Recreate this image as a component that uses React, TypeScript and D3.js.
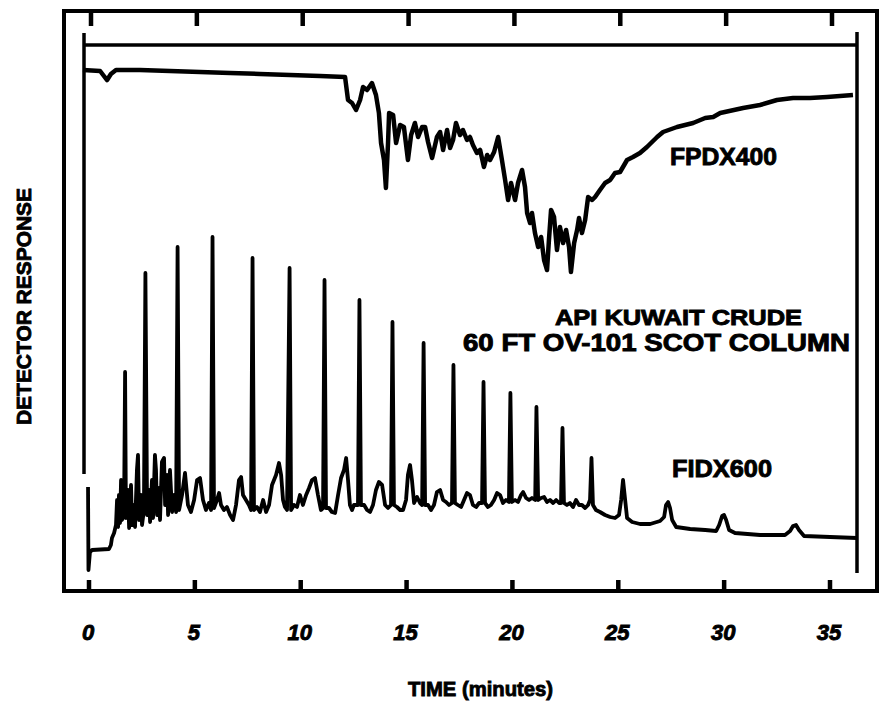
import React, { useEffect, useRef } from 'react';
import * as d3 from 'd3';

// time axis (minutes)
const tickValues = [0, 5, 10, 15, 20, 25, 30, 35];
const tickLabels = ['0', '5', '10', '15', '20', '25', '30', '35'];

// FPD x400 trace : [time (min), response]
const fpdTrace: [number, number][] = [
  [-0.38, 104], [0.43, 103.8], [0.61, 102.8], [0.76, 102], [0.94, 103.2], [1.18, 104],
  [2.31, 104], [3.73, 103.8], [5.15, 103.6], [6.57, 103.4], [7.98, 103.2], [9.4, 103],
  [10.82, 102.8], [12.0, 102.6], [12.14, 98], [12.33, 97.4], [12.52, 96], [12.71, 98],
  [12.85, 100.6], [13.04, 100], [13.27, 101.4], [13.46, 99], [13.6, 95.4], [13.7, 89.4],
  [13.84, 86], [13.93, 80.4], [14.03, 89.4], [14.08, 95.4], [14.27, 95], [14.41, 89.4],
  [14.6, 93], [14.78, 92.6], [14.97, 86], [15.12, 91], [15.3, 93.4], [15.45, 90.6],
  [15.64, 92.6], [15.78, 92.6], [15.92, 89.6], [16.11, 86.4], [16.34, 90.6], [16.49, 91.6],
  [16.63, 88], [16.82, 92], [16.96, 88.4], [17.1, 90], [17.24, 93.4], [17.43, 91],
  [17.57, 92], [17.76, 90], [17.9, 90.6], [18.04, 89], [18.23, 87.4], [18.38, 88],
  [18.56, 84.6], [18.71, 87], [18.85, 86], [19.04, 87.6], [19.23, 90.6], [19.41, 86],
  [19.56, 82], [19.7, 78], [19.84, 81.4], [20.03, 78], [20.17, 81.4], [20.36, 84],
  [20.5, 80.6], [20.6, 75.4], [20.74, 73.4], [20.83, 75.4], [20.97, 71.4], [21.12, 68.6],
  [21.26, 70.6], [21.4, 66], [21.54, 64], [21.63, 70], [21.73, 76], [21.87, 74.6],
  [22.01, 68], [22.15, 72.6], [22.3, 69.4], [22.44, 72], [22.58, 68.6], [22.67, 63.6],
  [22.82, 69.4], [22.96, 72], [23.05, 74.4], [23.19, 71.4], [23.34, 74], [23.48, 78.6],
  [23.67, 78], [23.81, 78.6], [24.04, 80], [24.28, 81.4], [24.52, 82], [24.75, 83.4],
  [24.99, 83.6], [25.32, 86], [25.6, 86.6], [25.93, 87.4], [26.26, 88.6], [26.74, 90.6],
  [27.02, 91.6], [27.68, 92.6], [28.44, 93.4], [29.01, 94.4], [29.39, 94.6], [29.72, 95.4],
  [30.8, 96.4], [31.6, 97], [32.4, 98], [33.16, 98.4], [33.96, 98.4], [34.77, 98.6],
  [35.99, 99]
];

// FID x600 trace : [time (min), response]
const fidTrace: [number, number][] = [
  [-0.14, 20.6], [-0.12, 4], [-0.05, 7.6], [0.05, 8], [0.85, 8.2], [0.94, 9], [0.99, 10.4],
  [1.09, 11.4], [1.18, 13], [1.23, 18], [1.28, 12.6], [1.32, 19], [1.37, 13.4], [1.42, 22],
  [1.46, 14], [1.56, 15], [1.61, 43.6], [1.65, 14.4], [1.75, 20], [1.8, 12.4], [1.89, 21],
  [1.94, 13], [2.03, 17], [2.08, 12.6], [2.17, 24], [2.22, 27], [2.27, 14], [2.36, 19],
  [2.41, 13], [2.5, 16], [2.57, 63.4], [2.65, 15], [2.74, 20], [2.79, 13.6], [2.88, 22],
  [2.93, 14.4], [3.02, 27], [3.07, 24], [3.12, 15], [3.21, 20.4], [3.26, 14], [3.35, 25.6],
  [3.45, 26.4], [3.5, 17], [3.59, 23], [3.64, 15], [3.73, 24], [3.83, 15.6], [3.92, 19],
  [4.02, 15.6], [4.09, 68.6], [4.16, 16], [4.3, 19], [4.44, 23.4], [4.58, 17], [4.72, 15.6],
  [4.87, 18], [5.01, 22], [5.15, 22.4], [5.29, 18], [5.43, 16], [5.57, 17.4], [5.67, 16],
  [5.74, 70.6], [5.81, 16.4], [5.95, 18], [6.05, 19.4], [6.14, 17], [6.28, 16], [6.42, 16.6],
  [6.57, 15], [6.71, 14], [6.85, 17], [6.99, 22], [7.09, 22.6], [7.18, 19], [7.32, 18],
  [7.46, 17], [7.56, 16], [7.63, 66.4], [7.7, 16], [7.84, 16.6], [7.98, 15.6], [8.13, 18],
  [8.27, 15.6], [8.41, 17], [8.55, 21], [8.74, 23], [8.88, 25.4], [8.98, 23], [9.07, 18],
  [9.16, 16.6], [9.26, 16], [9.38, 64.4], [9.45, 16], [9.59, 17], [9.73, 16.6], [9.87, 19],
  [10.01, 17], [10.16, 19], [10.3, 20.4], [10.44, 22], [10.58, 22.4], [10.72, 19], [10.86, 16],
  [10.96, 16.4], [11.03, 62], [11.1, 16.4], [11.24, 16.4], [11.38, 15.6], [11.53, 15.4],
  [11.67, 19], [11.81, 22.4], [11.95, 24], [12.05, 26.4], [12.14, 22], [12.23, 17], [12.33, 16],
  [12.42, 17], [12.61, 17], [12.68, 58], [12.75, 17], [12.9, 17], [13.04, 16], [13.18, 15.6],
  [13.32, 17], [13.46, 20], [13.6, 21.6], [13.75, 21], [13.89, 17], [14.03, 16.4], [14.17, 17],
  [14.24, 53.6], [14.31, 17], [14.45, 16.6], [14.6, 16], [14.74, 16], [14.88, 18], [14.97, 23],
  [15.07, 25], [15.16, 22], [15.26, 17.4], [15.4, 18.6], [15.54, 17.4], [15.64, 17], [15.71, 49.4],
  [15.78, 17], [15.92, 17], [16.06, 16], [16.2, 17], [16.34, 19.6], [16.49, 20], [16.63, 18],
  [16.77, 17.6], [16.91, 17], [17.05, 17.4], [17.12, 45], [17.19, 17.4], [17.33, 17], [17.48, 16.6],
  [17.62, 18], [17.76, 19.4], [17.9, 19], [18.04, 17], [18.19, 16.6], [18.33, 17.4], [18.47, 17.4],
  [18.54, 41.6], [18.61, 17.4], [18.75, 16.6], [18.89, 17], [19.04, 18], [19.18, 19.4], [19.32, 19],
  [19.46, 17.4], [19.6, 18], [19.74, 17.6], [19.81, 39.4], [19.88, 17.6], [20.03, 18], [20.17, 17.6],
  [20.31, 19], [20.41, 19.6], [20.55, 18.4], [20.69, 18], [20.83, 18.4], [20.98, 18], [21.04, 36.6],
  [21.12, 18], [21.26, 18.4], [21.4, 18.6], [21.54, 17.6], [21.68, 18], [21.83, 17.4], [21.97, 18],
  [22.11, 17.4], [22.2, 17.4], [22.27, 32.4], [22.34, 17.4], [22.48, 17], [22.62, 17.4], [22.77, 16.6],
  [22.91, 18], [23.05, 17], [23.19, 17], [23.34, 16.4], [23.48, 17], [23.57, 18], [23.64, 26.4],
  [23.71, 17], [23.85, 16], [24.04, 15.6], [24.28, 15], [24.52, 14.6], [24.75, 14.4], [24.94, 15],
  [25.04, 18], [25.13, 22], [25.23, 18], [25.32, 14.4], [25.56, 13.6], [25.93, 13.2], [26.41, 13.2],
  [26.88, 13.8], [27.07, 14.6], [27.16, 17], [27.26, 17.6], [27.35, 16.4], [27.45, 14], [27.64, 12.6],
  [28.3, 12.2], [29.01, 12], [29.53, 11.8], [29.67, 13], [29.81, 14.8], [29.9, 15], [30.0, 14],
  [30.14, 12], [30.42, 11.4], [31.6, 11], [32.78, 11], [33.02, 11.8], [33.16, 12.8], [33.3, 13],
  [33.44, 12], [33.68, 10.8], [34.91, 10.6], [36.18, 10.4]
];

const traceLabels = ['FPDX400', 'FIDX600'];
const sampleLines = ['API KUWAIT CRUDE', '60 FT OV-101 SCOT COLUMN'];

const App = () => {
  const ref = useRef<SVGSVGElement>(null);

  useEffect(() => {
    const svg = d3.select(ref.current);
    svg.selectAll('*').remove();

    const ink = '#000';
    const font = "'Liberation Sans', Arial, sans-serif";

    // scales: time across, detector response up
    const x = d3.scaleLinear().domain([0, 35]).range([91, 832]);
    const y = d3.scaleLinear().domain([0, 109]).range([590, 45]);

    const g = svg.append('g');

    // outer frame
    g.append('rect')
      .attr('x', 64).attr('y', 11)
      .attr('width', 813).attr('height', 580)
      .attr('fill', 'none').attr('stroke', ink).attr('stroke-width', 4);

    // tick marks: one path per edge, top hanging down, bottom standing up
    const topTicks = tickValues.map(t => `M${x(t)},11V26`).join('');
    const bottomTicks = tickValues.map(t => `M${x(t) - 2},591V580`).join('');
    g.append('path').attr('d', topTicks)
      .attr('fill', 'none').attr('stroke', ink).attr('stroke-width', 4.5);
    g.append('path').attr('d', bottomTicks)
      .attr('fill', 'none').attr('stroke', ink).attr('stroke-width', 4.5);

    // inner recorder frame
    g.append('line').attr('x1', 83).attr('x2', 857).attr('y1', 45).attr('y2', 45)
      .attr('stroke', ink).attr('stroke-width', 3.5);
    g.append('line').attr('x1', 84).attr('x2', 84).attr('y1', 33).attr('y2', 474)
      .attr('stroke', ink).attr('stroke-width', 3.5);
    g.append('line').attr('x1', 857).attr('x2', 857).attr('y1', 32).attr('y2', 573)
      .attr('stroke', ink).attr('stroke-width', 3.5);

    const line = d3.line<[number, number]>()
      .x(d => x(d[0]))
      .y(d => y(d[1]));

    // FPD trace
    g.append('path')
      .datum(fpdTrace)
      .attr('fill', 'none')
      .attr('stroke', ink)
      .attr('stroke-width', 4.5)
      .attr('stroke-linejoin', 'round')
      .attr('d', line);

    // FID trace
    g.append('path')
      .datum(fidTrace)
      .attr('fill', 'none')
      .attr('stroke', ink)
      .attr('stroke-width', 3.8)
      .attr('stroke-linejoin', 'round')
      .attr('d', line);

    // heavy lettering, like the scanned original
    const heavy = (sel: any, size: number) => sel
      .style('font-family', font)
      .style('font-weight', 'bold')
      .style('font-size', size + 'px')
      .attr('stroke', ink)
      .attr('stroke-width', 0.9)
      .attr('fill', ink);

    // tick labels
    g.append('g')
      .selectAll('text')
      .data(tickValues)
      .enter().append('text')
      .attr('x', d => x(d) - 3)
      .attr('y', 640)
      .attr('text-anchor', 'middle')
      .style('font-style', 'italic')
      .call(heavy, 22)
      .text((d, i) => tickLabels[i]);

    // axis titles
    g.append('text')
      .attr('x', 408).attr('y', 696)
      .attr('textLength', 145).attr('lengthAdjust', 'spacingAndGlyphs')
      .call(heavy, 21)
      .text('TIME (minutes)');

    g.append('text')
      .attr('transform', 'translate(31,425) rotate(-90)')
      .attr('textLength', 237).attr('lengthAdjust', 'spacingAndGlyphs')
      .call(heavy, 21)
      .text('DETECTOR RESPONSE');

    // trace labels
    g.append('text')
      .attr('x', 670).attr('y', 165)
      .attr('textLength', 107).attr('lengthAdjust', 'spacingAndGlyphs')
      .call(heavy, 24)
      .text(traceLabels[0]);

    g.append('text')
      .attr('x', 672).attr('y', 477)
      .attr('textLength', 100).attr('lengthAdjust', 'spacingAndGlyphs')
      .call(heavy, 24)
      .text(traceLabels[1]);

    // sample description
    g.append('text')
      .attr('x', 555).attr('y', 325)
      .attr('textLength', 247).attr('lengthAdjust', 'spacingAndGlyphs')
      .call(heavy, 22)
      .text(sampleLines[0]);

    g.append('text')
      .attr('x', 463).attr('y', 351)
      .attr('textLength', 387).attr('lengthAdjust', 'spacingAndGlyphs')
      .call(heavy, 23)
      .text(sampleLines[1]);
  }, []);

  return (
    <svg
      ref={ref}
      width={880}
      height={701}
      style={{ position: 'absolute', left: 0, top: 0, background: '#fff' }}
    />
  );
};

export default App;
